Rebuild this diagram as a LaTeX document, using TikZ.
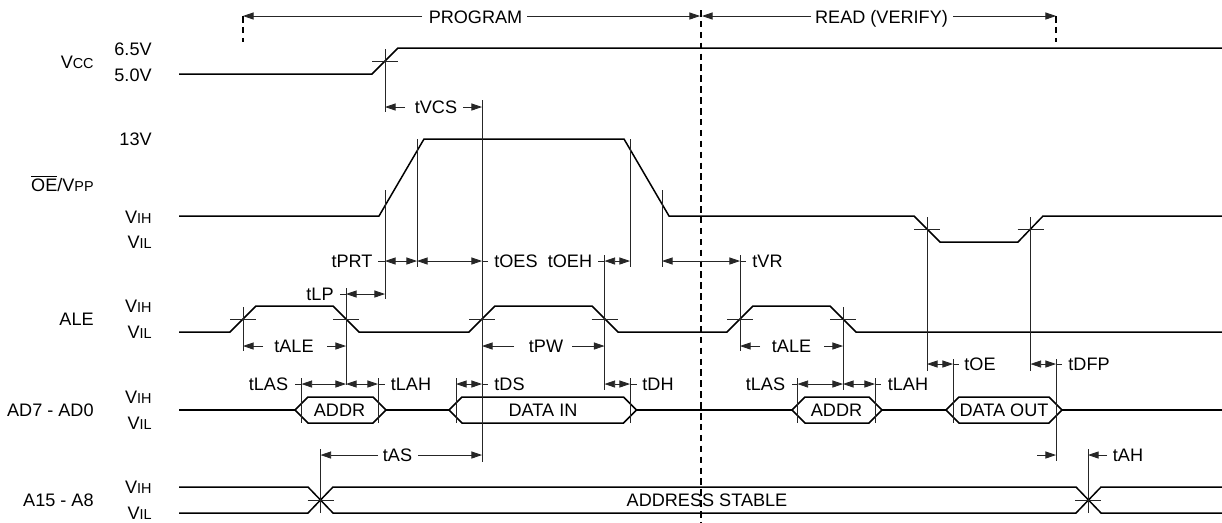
\documentclass[tikz,border=0pt]{standalone}
\usepackage{fontspec}
\setmainfont{Liberation Sans}
\usetikzlibrary{arrows.meta}
\newcommand{\smallcaps}[1]{{\fontsize{8.2}{8.2}\selectfont #1}}
\tikzset{
  sig/.style = {line width = 0.85pt, line join = miter},
  guide/.style = {line width = 0.45pt, black!85},
  dim/.style = {line width = 0.45pt, black!85, -{Triangle[length = 6pt, width = 4pt]}},
  dimboth/.style = {line width = 0.45pt, black!85, {Triangle[length = 6pt, width = 4pt]}-{Triangle[length = 6pt, width = 4pt]}},
  phase/.style = {line width = 0.75pt, dash pattern = on 3.7pt off 2.5pt},
  lab/.style = {inner sep = 0, text height = 7.4pt, text depth = 0pt, font = \fontsize{10.3}{10.3}\selectfont}
}
\begin{document}
\begin{tikzpicture}[x=0.02cm, y=-0.02cm]
  \useasboundingbox (0, 0) rectangle (1222, 522);
  \fill [white] (0, 0) rectangle (1222, 522);

  \node [lab, anchor=east] (vcc) at (94, 62) {V\smallcaps{CC}};
  \node [lab, anchor=east] (oevpp) at (94, 185) {$\overline{\mbox{OE}}$/V\smallcaps{PP}};
  \node [lab, anchor=east] (ale) at (94, 319) {ALE};
  \node [lab, anchor=east] (adlow) at (94, 410) {AD7 - AD0};
  \node [lab, anchor=east] (adhigh) at (94, 500) {A15 - A8};
  \node [lab, anchor=east] (vsix) at (152, 49) {6.5V};
  \node [lab, anchor=east] (vfive) at (152, 75) {5.0V};
  \node [lab, anchor=east] (vpp) at (152, 139) {13V};
  \foreach \n/\y in {a/217, b/306, c/397, d/487} {
    \node [lab, anchor=east] (vih\n) at (152, \y) {V\smallcaps{IH}};
  }
  \foreach \n/\y in {a/242, b/332, c/423, d/513} {
    \node [lab, anchor=east] (vil\n) at (152, \y) {V\smallcaps{IL}};
  }

  \node [lab] (program) at (475.5, 17) {PROGRAM};
  \node [lab] (read) at (881.5, 17) {READ (VERIFY)};
  \draw [dim] (422, 16) -- (243, 16);
  \draw [dim] (527, 16) -- (700, 16);
  \draw [dim] (811, 16) -- (702, 16);
  \draw [dim] (953, 16) -- (1056, 16);
  \draw [phase] (243, 16) -- (243, 42);
  \draw [phase] (1056, 16) -- (1056, 42);
  \draw [phase] (701, 10) -- (701, 522);

  \draw [sig] (179, 74) -- (372, 74) -- (398, 48) -- (1222, 48);
  \draw [sig] (179, 216) -- (379, 216) -- (424, 139) -- (624, 139) -- (669, 216)
    -- (914, 216) -- (940, 242) -- (1018, 242) -- (1043, 216) -- (1222, 216);
  \draw [sig] (179, 332) -- (230, 332) -- (256, 306) -- (333, 306) -- (359, 332)
    -- (469, 332) -- (495, 306) -- (592, 306) -- (618, 332)
    -- (727, 332) -- (753, 306) -- (830, 306) -- (856, 332) -- (1222, 332);
  \draw [sig] (179, 410) -- (295, 410);
  \draw [sig] (386, 410) -- (449, 410);
  \draw [sig] (636.5, 410) -- (792, 410);
  \draw [sig] (882, 410) -- (946, 410);
  \draw [sig] (1062, 410) -- (1222, 410);
  \foreach \a/\b in {295/386, 449/636.5, 792/882, 946/1062} {
    \draw [sig] (\a, 410) -- ({\a + 13}, 397) -- ({\b - 13}, 397) -- (\b, 410)
      -- ({\b - 13}, 423) -- ({\a + 13}, 423) -- cycle;
  }
  \draw [sig] (179, 487) -- (308, 487) -- (333, 513) -- (1076, 513) -- (1101, 487) -- (1222, 487);
  \draw [sig] (179, 513) -- (308, 513) -- (333, 487) -- (1076, 487) -- (1101, 513) -- (1222, 513);

  \node [lab] (addr1) at (339.5, 410) {ADDR};
  \node [lab] (datain) at (543, 410) {DATA IN};
  \node [lab] (addr2) at (836.5, 410) {ADDR};
  \node [lab] (dataout) at (1004, 410) {DATA OUT};
  \node [lab] (stable) at (707, 500) {ADDRESS STABLE};

  \foreach \x/\y in {385/61, 927/229, 1030.5/229, 243/319, 346/319, 482/319, 604.5/319, 740/319, 843/319, 320.5/500, 1088/500} {
    \draw [guide] ({\x - 13}, \y) -- ({\x + 13}, \y);
  }
  \foreach \x/\a/\b in {385/49/112, 385/190/299, 417/139/267, 482/100/462, 630/139/267, 662/190/267,
    604.5/255/390, 740/255/351, 243/307/351, 346/288/385, 843/307/390, 927/217/371, 1030.5/217/371,
    301.5/378/423, 378/378/423, 456/378/423, 630/378/423, 797.5/378/423, 875/378/423,
    953/359/423, 1056/359/461, 320.5/449/513, 1088/449/513} {
    \draw [guide] (\x, \a) -- (\x, \b);
  }

  \node [lab] (tvcs) at (436, 107) {tVCS};
  \draw [dim] (405, 107) -- (385, 107);
  \draw [dim] (463, 107) -- (482, 107);

  \node [lab] (tprt) at (352, 261) {tPRT};
  \node [lab] (toes) at (516, 261) {tOES};
  \node [lab] (toeh) at (570, 261) {tOEH};
  \node [lab] (tvr) at (767.5, 261) {tVR};
  \draw [guide] (378, 261) -- (385, 261);
  \draw [dimboth] (385, 261) -- (417, 261);
  \draw [dimboth] (417, 261) -- (482, 261);
  \draw [guide] (482, 261) -- (488, 261);
  \draw [guide] (598, 261) -- (604.5, 261);
  \draw [dimboth] (604.5, 261) -- (630, 261);
  \draw [dimboth] (662, 261) -- (740, 261);
  \draw [guide] (740, 261) -- (746, 261);

  \node [lab] (tlp) at (320, 294) {tLP};
  \draw [guide] (340, 294) -- (346, 294);
  \draw [dimboth] (346, 294) -- (385, 294);

  \node [lab] (tale1) at (294, 346) {tALE};
  \node [lab] (tpw) at (546, 346) {tPW};
  \node [lab] (tale2) at (791.5, 346) {tALE};
  \foreach \a/\b in {263/243, 327/346, 514/482, 572/604.5, 760/740, 824/843} {
    \draw [dim] (\a, 346) -- (\b, 346);
  }

  \node [lab] (toe) at (980, 364) {tOE};
  \node [lab] (tdfp) at (1089, 364) {tDFP};
  \draw [dimboth] (927, 364) -- (953, 364);
  \draw [guide] (953, 364) -- (959, 364);
  \draw [dimboth] (1030.5, 364) -- (1056, 364);
  \draw [guide] (1056, 364) -- (1062, 364);

  \node [lab] (tlas1) at (268.5, 384) {tLAS};
  \node [lab] (tlah1) at (411, 384) {tLAH};
  \node [lab] (tds) at (509.5, 384) {tDS};
  \node [lab] (tdh) at (658, 384) {tDH};
  \node [lab] (tlas2) at (765.5, 384) {tLAS};
  \node [lab] (tlah2) at (908, 384) {tLAH};
  \foreach \t/\a/\b/\c/\d in {295/301.5/346/378/385, 792/797.5/843/875/881} {
    \draw [guide] (\t, 384) -- (\a, 384);
    \draw [dimboth] (\a, 384) -- (\b, 384);
    \draw [dimboth] (\b, 384) -- (\c, 384);
    \draw [guide] (\c, 384) -- (\d, 384);
  }
  \draw [dimboth] (456, 384) -- (482, 384);
  \draw [guide] (482, 384) -- (488, 384);
  \draw [dimboth] (604.5, 384) -- (630, 384);
  \draw [guide] (630, 384) -- (637, 384);

  \node [lab] (tas) at (397.5, 455) {tAS};
  \node [lab] (tah) at (1128, 455) {tAH};
  \draw [dim] (378, 455) -- (320.5, 455);
  \draw [dim] (418, 455) -- (482, 455);
  \draw [dim] (1037, 455) -- (1056, 455);
  \draw [dim] (1107, 455) -- (1088, 455);
\end{tikzpicture}
\end{document}
